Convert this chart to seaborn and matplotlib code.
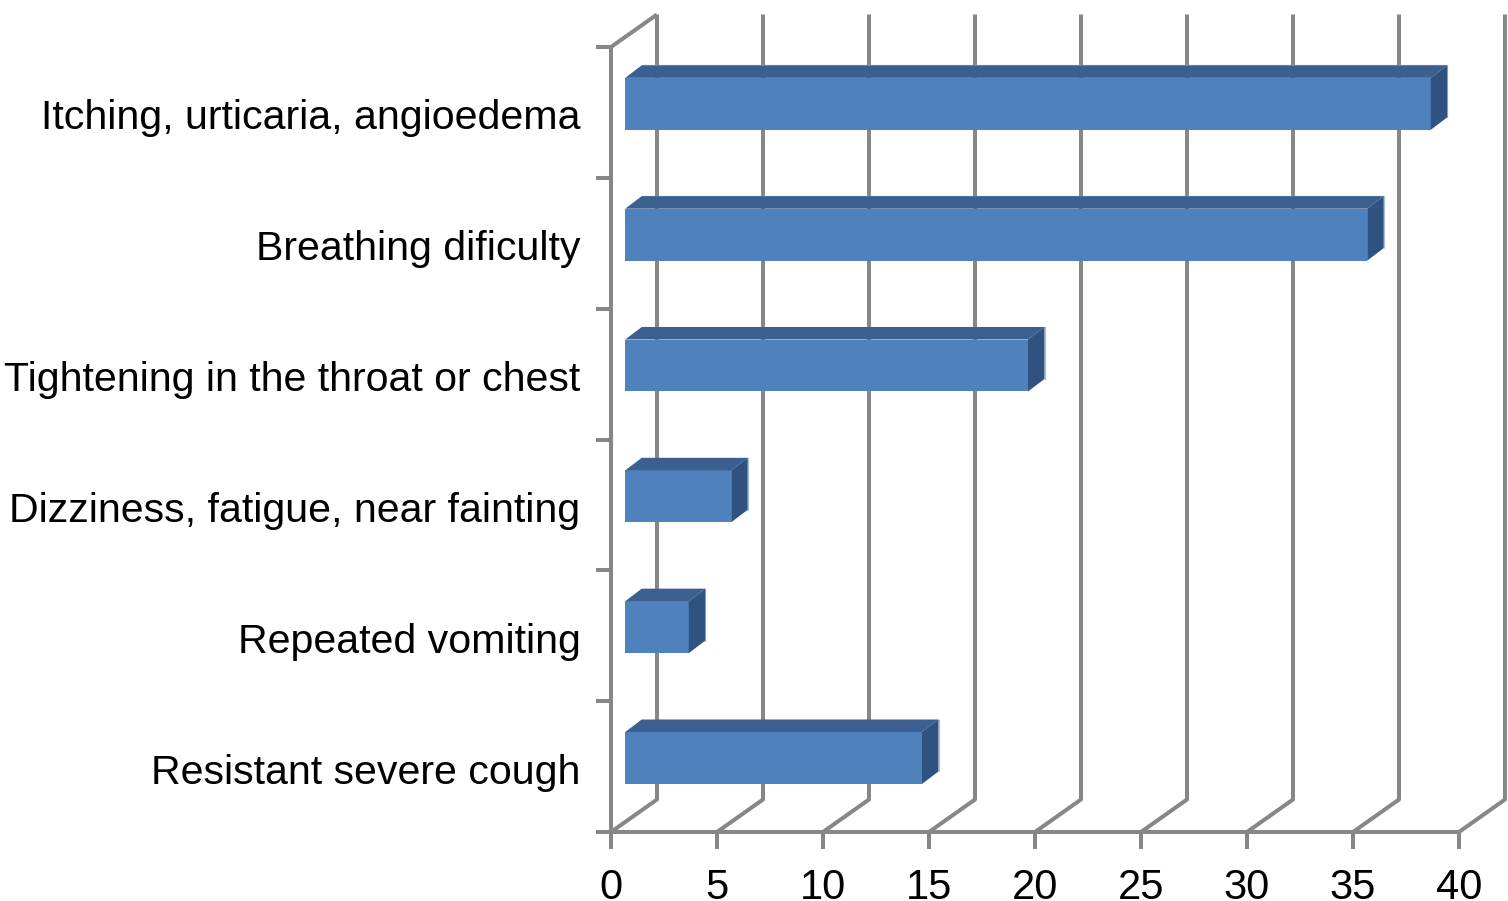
import numpy as np
import pandas as pd
import matplotlib
matplotlib.use("Agg")
import matplotlib.pyplot as plt
from matplotlib.patches import Polygon
from matplotlib.transforms import ScaledTranslation
import seaborn as sns

symptoms = ["Itching, urticaria, angioedema", "Breathing dificulty",
            "Tightening in the throat or chest", "Dizziness, fatigue, near fainting",
            "Repeated vomiting", "Resistant severe cough"]
counts = [38, 35, 19, 5, 3, 14]
x_ticks = [0, 5, 10, 15, 20, 25, 30, 35, 40]

GREY = "#878787"
FRONT = "#4F81BD"
TOP = "#3B608F"
SIDE = "#2F5280"
EDGE = "#A9BFDA"

sns.set_theme(style="ticks")
plt.rcParams["font.family"] = ["Liberation Sans", "DejaVu Sans"]

W, H = 1508, 901
fig = plt.figure(figsize=(W / 100, H / 100), dpi=100, facecolor="white")
L, R, T, B = 611, 1459, 47, 832
ax = fig.add_axes([L / W, 1 - B / H, (R - L) / W, (B - T) / H])

df = pd.DataFrame({"symptom": symptoms, "count": counts})
sns.barplot(data=df, x="count", y="symptom", orient="y", color=FRONT, saturation=1,
            width=0.397, linewidth=0, zorder=3, ax=ax)
ax.set_xlim(0, 40)
ax.set_ylim(5.5, -0.5)

px = 40 / (R - L)          # data units per pixel, x
py = 6 / (B - T)           # data units per pixel, y
wall_dx, wall_dy = 46 * px, 32.5 * py     # depth of chart box
bar_dx, bar_dy = 16.5 * px, 12.5 * py     # depth of a bar
shift_x, shift_y = 14.2 * px, -8.6 * py   # bar placement inside the depth
LW = 2.9

# back wall and floor lines
line = dict(color=GREY, lw=LW, clip_on=False, zorder=1, solid_capstyle="butt")
y_front, y_top = 5.5, -0.5
for v in x_ticks:
    ax.plot([v, v + wall_dx, v + wall_dx],
            [y_front, y_front - wall_dy, y_top - wall_dy], **line)
ax.plot([0, wall_dx], [y_top, y_top - wall_dy], **line)

# extrude the bars
for patch in ax.patches[:len(counts)]:
    patch.set_x(patch.get_x() + shift_x)
    patch.set_y(patch.get_y() + shift_y)
    x0, y0 = patch.get_x(), patch.get_y()
    w, h = patch.get_width(), patch.get_height()
    x1, y1 = x0 + w, y0 + h
    ax.add_patch(Polygon([(x0, y0), (x1, y0), (x1 + bar_dx, y0 - bar_dy), (x0 + bar_dx, y0 - bar_dy)],
                         facecolor=TOP, edgecolor="none", zorder=3, clip_on=False))
    ax.add_patch(Polygon([(x1, y0), (x1 + bar_dx, y0 - bar_dy), (x1 + bar_dx, y1 - bar_dy), (x1, y1)],
                         facecolor=SIDE, edgecolor="none", zorder=3, clip_on=False))
    ax.plot([x0 + bar_dx, x1 + bar_dx, x1 + bar_dx], [y0 - bar_dy, y0 - bar_dy, y1 - bar_dy],
            color=EDGE, lw=0.9, zorder=2.9, clip_on=False)

# axes
sns.despine(ax=ax, top=True, right=True)
for s in ("left", "bottom"):
    ax.spines[s].set_color(GREY)
    ax.spines[s].set_linewidth(LW)
    ax.spines[s].set_zorder(1.5)
ax.set_xlabel("")
ax.set_ylabel("")
ax.set_xticks(x_ticks)
ax.tick_params(axis="x", length=12.5, width=LW, color=GREY, labelsize=30,
               labelcolor="black", pad=13.5)
ax.set_yticks(range(len(symptoms)))
ax.set_yticklabels(symptoms)
ax.set_yticks(np.arange(-0.5, 6, 1), minor=True)
ax.tick_params(axis="y", which="major", length=0, labelsize=29.6, labelcolor="black", pad=22)
ax.tick_params(axis="y", which="minor", length=10.5, width=LW, color=GREY)
drop = ScaledTranslation(0, -2 / 100, fig.dpi_scale_trans)
for lab in ax.get_yticklabels():
    lab.set_transform(lab.get_transform() + drop)

fig.savefig("out.png", dpi=100)
